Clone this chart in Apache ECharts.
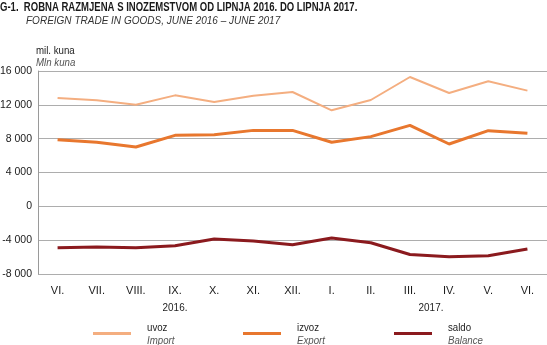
<!DOCTYPE html>
<html>
<head>
<meta charset="utf-8">
<script src="https://cdn.jsdelivr.net/npm/echarts@6/dist/echarts.min.js"></script>
<style>
  html, body { margin: 0; padding: 0; background: #fff; }
  #chart { width: 547px; height: 345px; }
</style>
</head>
<body>
<div id="chart"></div>
<script>
// Months June 2016 – June 2017
const months = ['VI.', 'VII.', 'VIII.', 'IX.', 'X.', 'XI.', 'XII.', 'I.', 'II.', 'III.', 'IV.', 'V.', 'VI.'];
// Values in million kuna
const importValues  = [12800, 12530, 12020, 13120, 12340, 13080, 13520, 11350, 12570, 15290, 13400, 14780, 13680];
const exportValues  = [7880, 7570, 7020, 8390, 8470, 8980, 8980, 7570, 8240, 9570, 7370, 8950, 8630];
const balanceValues = [-4900, -4800, -4900, -4650, -3850, -4100, -4550, -3750, -4300, -5700, -5950, -5850, -5050];
const yTicks = { min: -8000, max: 16000, step: 4000 };

const FONT = '"Liberation Sans Narrow", "Liberation Sans", sans-serif';
const C_IMPORT = '#f4ae80';
const C_EXPORT = '#e8772e';
const C_BALANCE = '#8b1a1e';

const chart = echarts.init(document.getElementById('chart'), null, { renderer: 'canvas' });

function fmt(v) {
  const s = Math.abs(v).toString().replace(/\B(?=(\d{3})+(?!\d))/g, ' ');
  return (v < 0 ? '-' : '') + s;
}

// narrow text: regular face squeezed horizontally
function label(x, y, text, font, fill, sx, align) {
  return { type: 'text', x: x, y: y, scaleX: sx || 0.88,
    style: { text: text, font: font, fill: fill, textAlign: align || 'left' } };
}

function legendItem(x, color, w, name, sub) {
  return [
    { type: 'rect', shape: { x: x, y: 332, width: 38, height: w }, style: { fill: color } },
    label(x + 54, 322, name, '11px ' + FONT, '#222'),
    label(x + 54, 335, sub, 'italic 11px ' + FONT, '#555')
  ];
}

chart.setOption({
  animation: false,
  grid: { left: 38, right: 0, top: 71, bottom: 71, containLabel: false, outerBoundsMode: 'none' },
  xAxis: {
    type: 'category',
    data: months,
    boundaryGap: true,
    axisLine: { show: false },
    axisTick: { show: false },
    axisLabel: { color: '#1a1a1a', fontFamily: FONT, fontSize: 11, margin: 11 }
  },
  yAxis: {
    type: 'value',
    min: yTicks.min,
    max: yTicks.max,
    interval: yTicks.step,
    axisLine: { show: true, lineStyle: { color: '#9a9a9a', width: 1 } },
    axisTick: { show: false },
    axisLabel: { color: '#1a1a1a', fontFamily: FONT, fontSize: 10.5, margin: 6, formatter: fmt },
    splitLine: { lineStyle: { color: '#adadad', width: 1 } }
  },
  series: [
    { name: 'uvoz', type: 'line', data: importValues, symbol: 'none',
      lineStyle: { color: C_IMPORT, width: 2 }, z: 3 },
    { name: 'izvoz', type: 'line', data: exportValues, symbol: 'none',
      lineStyle: { color: C_EXPORT, width: 3 }, z: 4 },
    { name: 'saldo', type: 'line', data: balanceValues, symbol: 'none',
      lineStyle: { color: C_BALANCE, width: 3 }, z: 5 }
  ],
  graphic: [
    label(0, 2, 'G-1.  ROBNA RAZMJENA S INOZEMSTVOM OD LIPNJA 2016. DO LIPNJA 2017.', 'bold 12px ' + FONT, '#1a1a1a', 0.795),
    label(26, 15, 'FOREIGN TRADE IN GOODS, JUNE 2016 – JUNE 2017', 'italic 11px ' + FONT, '#333', 0.91),
    label(36, 45, 'mil. kuna', '11px ' + FONT, '#222'),
    label(36, 57, 'Mln kuna', 'italic 11px ' + FONT, '#555'),
    label(175, 302, '2016.', '11px ' + FONT, '#222', 0.9, 'center'),
    label(431, 302, '2017.', '11px ' + FONT, '#222', 0.9, 'center'),
    ...legendItem(93, C_IMPORT, 3, 'uvoz', 'Import'),
    ...legendItem(243, C_EXPORT, 3, 'izvoz', 'Export'),
    ...legendItem(394, C_BALANCE, 3, 'saldo', 'Balance')
  ]
});
</script>
</body>
</html>
